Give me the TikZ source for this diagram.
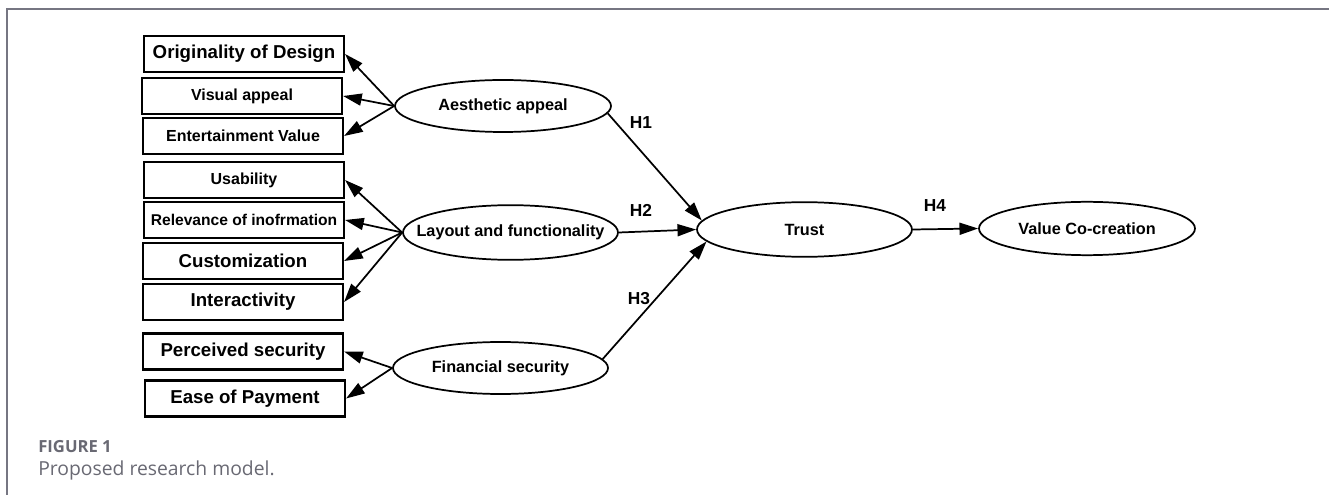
\documentclass[tikz,border=0pt]{standalone}
\usepackage{fontspec}
\setmainfont{Liberation Sans}
\newfontfamily\capfont{Open Sans}
\usetikzlibrary{shapes.geometric,arrows.meta}
\definecolor{framegray}{RGB}{118,118,130}
\definecolor{capgray}{RGB}{105,105,115}
\tikzset{
  box/.style={draw, line width=1.6pt, rectangle, minimum width=150pt, minimum height=27pt, inner sep=0pt},
  bigtxt/.style={font=\fontsize{14}{16}\selectfont\bfseries},
  smalltxt/.style={font=\fontsize{12}{14}\selectfont\bfseries},
  construct/.style={draw, line width=1.3pt, ellipse, inner sep=0pt},
  ctext/.style={font=\fontsize{12.2}{14}\selectfont\bfseries},
  arr/.style={line width=1.3pt, -{Triangle[length=14pt,width=9pt]}},
  hyp/.style={font=\fontsize{13}{15}\selectfont\bfseries},
}
\begin{document}
\begin{tikzpicture}[x=0.75pt,y=-0.75pt]
\useasboundingbox (0,0) rectangle (1329,495);
% frame
\draw[framegray, line width=1.5pt] (7,495) -- (7,9) -- (1329,9);

% indicator boxes
\node[box, bigtxt]   (orig) at (244,54)    {Originality of Design};
\node[box, smalltxt] (vis)  at (242,96)    {Visual appeal};
\node[box, smalltxt] (ent)  at (243,136)   {Entertainment Value};
\node[box, smalltxt] (usa)  at (244,180)   {Usability};
\node[box, font=\fontsize{11.7}{14}\selectfont\bfseries] (rel) at (244,220) {Relevance of inofrmation};
\node[box, bigtxt]   (cus)  at (243,261)   {Customization};
\node[box, bigtxt]   (int)  at (243,302)   {Interactivity};
\node[box, bigtxt]   (per)  at (243,351.5) {Perceived security};
\node[box, bigtxt]   (ease) at (245,398.5) {Ease of Payment};

% constructs
\node[construct, minimum width=162pt, minimum height=39pt,
      label={[ctext]center:Aesthetic appeal}] (aes) at (503,106) {};
\node[construct, minimum width=161.25pt, minimum height=41pt,
      label={[ctext]center:Layout and functionality}] (lay) at (510.5,232.5) {};
\node[construct, minimum width=161.25pt, minimum height=39pt,
      label={[ctext]center:Financial security}] (fin) at (500.5,368) {};
\node[construct, minimum width=161.25pt, minimum height=41pt,
      label={[ctext]center:Trust}] (trust) at (804.5,229.5) {};
\node[construct, minimum width=162pt, minimum height=40pt,
      label={[ctext]center:Value Co-creation}] (vc) at (1087,228.5) {};

% measurement arrows
\draw[arr] (aes.west) -- (orig.east);
\draw[arr] (aes.west) -- (vis.east);
\draw[arr] (aes.west) -- (ent.east);
\draw[arr] (lay.west) -- (usa.east);
\draw[arr] (lay.west) -- (rel.east);
\draw[arr] (lay.west) -- (cus.east);
\draw[arr] (lay.west) -- (int.east);
\draw[arr] (fin.west) -- (per.east);
\draw[arr] (fin.west) -- (ease.east);

% structural arrows
\draw[arr] (aes.-4) -- (trust.175);
\draw[arr] (lay.east) -- (trust.west);
\draw[arr] (fin.5) -- (trust.187);
\draw[arr] (trust.east) -- (vc.west);

% hypothesis labels
\node[hyp] (h1) at (641,123) {H1};
\node[hyp] (h2) at (641,210) {H2};
\node[hyp] (h3) at (639,299) {H3};
\node[hyp] (h4) at (935,206) {H4};

% caption
\node[anchor=west, capgray, inner sep=0pt, font=\capfont\fontsize{12.5}{14}\selectfont\bfseries] (figlabel) at (38,447) {FIGURE 1};
\node[anchor=west, capgray, inner sep=0pt, font=\capfont\fontsize{14.5}{17}\selectfont] (caption) at (38,470) {Proposed research model.};
\end{tikzpicture}
\end{document}
